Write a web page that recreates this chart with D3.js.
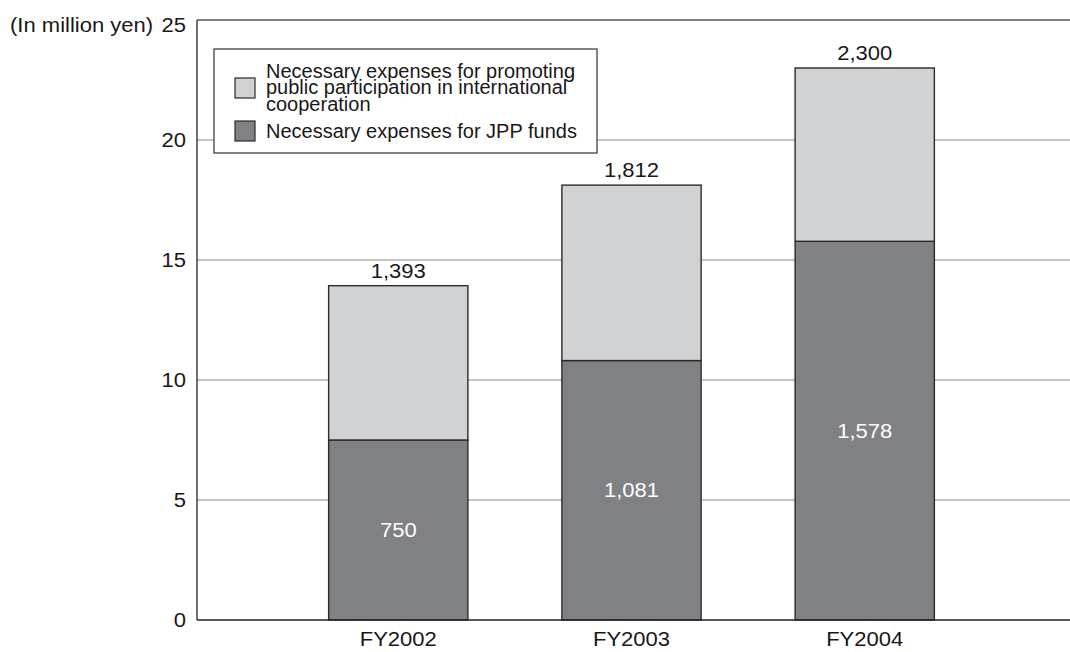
<!DOCTYPE html>
<html>
<head>
<meta charset="utf-8">
<script src="https://cdn.jsdelivr.net/npm/d3@7"></script>
<style>
  body { margin: 0; background: #fff; }
  svg { display: block; font-family: "Liberation Sans", Arial, sans-serif; }
</style>
</head>
<body>
<svg id="chart" width="1070" height="652"></svg>
<script>
// Fiscal years on the x axis
const years = ["FY2002", "FY2003", "FY2004"];
// Necessary expenses for JPP funds
const jppFunds = [750, 1081, 1578];
// Total expenses (labels above the bars)
const totals = [1393, 1812, 2300];
// Promoting public participation = total minus JPP funds
const promoting = totals.map((t, i) => t - jppFunds[i]);
const yTicks = [0, 5, 10, 15, 20, 25];
const legendItems = [
  { lines: ["Necessary expenses for promoting", "public participation in international", "cooperation"], key: "promoting" },
  { lines: ["Necessary expenses for JPP funds"], key: "jpp" }
];

const colors = { promoting: "#d1d2d4", jpp: "#808184" };
const fmt = d3.format(",");
const ink = "#1a1718";

const svg = d3.select("#chart");
const plot = { left: 197, right: 1070, top: 20, bottom: 620 };

const y = d3.scaleLinear().domain([0, 25]).range([plot.bottom, plot.top]);
const x = d3.scaleBand().domain(years).range([282, 981]).paddingInner(0.403).paddingOuter(0.2);

// Text in this chart is set slightly wide; place with translate + horizontal stretch
const SX = 1.13;
function wide(sel, fx, fy) {
  return sel.attr("transform", (d, i) => `translate(${fx(d, i)},${fy(d, i)}) scale(${SX},1)`);
}

// Horizontal gridlines
svg.append("g").selectAll("line")
  .data(yTicks.filter(d => d > 0))
  .join("line")
  .attr("x1", plot.left).attr("x2", plot.right)
  .attr("y1", d => y(d)).attr("y2", d => y(d))
  .attr("stroke", d => d === 25 ? "#555" : "#8a8a8a")
  .attr("stroke-width", d => d === 25 ? 1.5 : 1.2);

// Y axis labels (top label kept clear of the window edge)
wide(svg.append("g").selectAll("text")
  .data(yTicks)
  .join("text"), () => 186, d => Math.max(y(d), 24.5))
  .attr("dy", "0.36em")
  .attr("text-anchor", "end")
  .attr("font-size", 19.5)
  .attr("fill", ink)
  .text(d => d);

wide(svg.append("text").datum(0), () => 10, () => 24.5)
  .attr("dy", "0.36em")
  .attr("font-size", 19.5).attr("fill", ink)
  .text("(In million yen)");

// Stacked bars (values divided by 100 to match the axis units)
const rows = years.map((yr, i) => ({ yr, jpp: jppFunds[i], promoting: promoting[i], total: totals[i] }));
const stack = d3.stack().keys(["jpp", "promoting"])(rows);

svg.append("g").selectAll("g")
  .data(stack)
  .join("g")
  .attr("fill", d => colors[d.key])
  .selectAll("rect")
  .data(d => d)
  .join("rect")
  .attr("x", d => x(d.data.yr))
  .attr("width", x.bandwidth())
  .attr("y", d => y(d[1] / 100))
  .attr("height", d => y(d[0] / 100) - y(d[1] / 100))
  .attr("stroke", "#2b2b2b")
  .attr("stroke-width", 1.4);

// Left axis line and baseline
svg.append("line")
  .attr("x1", plot.left).attr("x2", plot.left)
  .attr("y1", plot.top).attr("y2", plot.bottom)
  .attr("stroke", "#333").attr("stroke-width", 1.4);
svg.append("line")
  .attr("x1", plot.left).attr("x2", plot.right)
  .attr("y1", plot.bottom).attr("y2", plot.bottom)
  .attr("stroke", "#222").attr("stroke-width", 1.6);

const cx = d => x(d.yr) + x.bandwidth() / 2;

// Total labels above bars
wide(svg.append("g").selectAll("text")
  .data(rows)
  .join("text"), cx, d => y(d.total / 100) - 8)
  .attr("text-anchor", "middle")
  .attr("font-size", 19.5).attr("fill", ink)
  .text(d => fmt(d.total));

// JPP fund labels inside the dark segment
wide(svg.append("g").selectAll("text")
  .data(rows)
  .join("text"), cx, d => y(d.jpp / 200))
  .attr("dy", "0.36em")
  .attr("text-anchor", "middle")
  .attr("font-size", 19.5).attr("fill", "#fff")
  .text(d => fmt(d.jpp));

// X axis labels
wide(svg.append("g").selectAll("text")
  .data(years)
  .join("text"), d => x(d) + x.bandwidth() / 2, () => 646)
  .attr("text-anchor", "middle")
  .attr("font-size", 19.5).attr("fill", ink)
  .text(d => d);

// Legend
const lg = svg.append("g");
lg.append("rect")
  .attr("x", 214).attr("y", 49).attr("width", 383).attr("height", 104)
  .attr("fill", "#fff").attr("stroke", "#333").attr("stroke-width", 1.2);

const swatchY = [78, 121];
const firstBaseline = [77.5, 138];
const lineGap = 16.5;
legendItems.forEach((item, i) => {
  lg.append("rect")
    .attr("x", 235).attr("y", swatchY[i]).attr("width", 20).attr("height", 20)
    .attr("fill", colors[item.key]).attr("stroke", "#2b2b2b").attr("stroke-width", 1.2);
  const t = lg.append("text")
    .attr("font-size", 20).attr("fill", ink);
  item.lines.forEach((ln, j) => {
    t.append("tspan")
      .attr("x", 266)
      .attr("y", firstBaseline[i] + j * lineGap)
      .text(ln);
  });
});
</script>
</body>
</html>
